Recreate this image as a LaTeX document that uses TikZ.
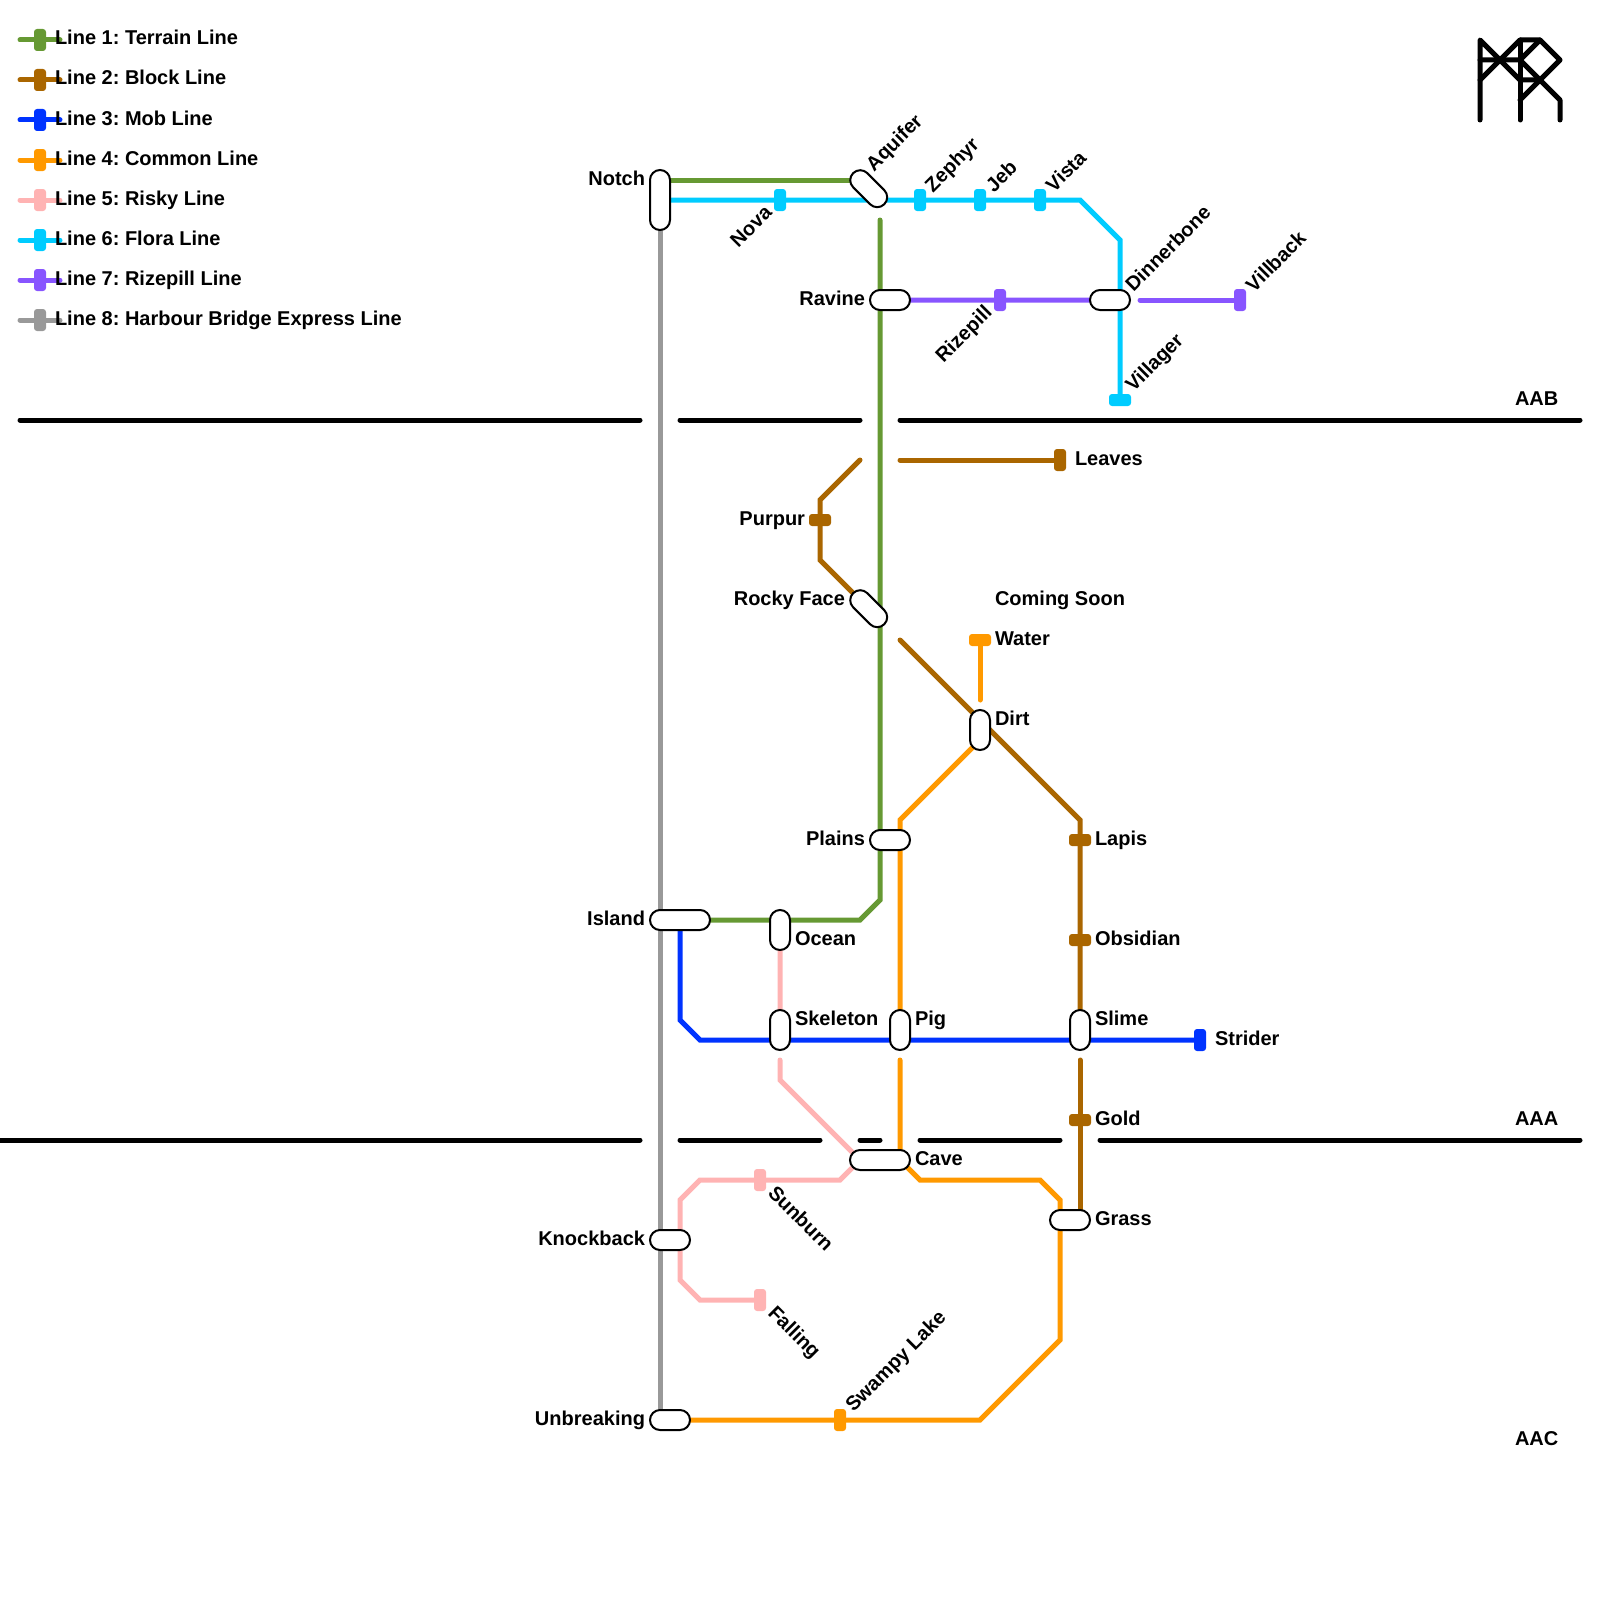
\documentclass[tikz,border=0pt]{standalone}
\usepackage{fontspec}
\setmainfont{Liberation Sans}
\usepackage{xcolor}
\usepackage{tikz}
\usetikzlibrary{shapes.misc, backgrounds}

\definecolor{terraincol}{HTML}{669933}
\definecolor{blockcol}{HTML}{AA6600}
\definecolor{mobcol}{HTML}{0033FF}
\definecolor{commoncol}{HTML}{FF9900}
\definecolor{riskycol}{HTML}{FFB3B3}
\definecolor{floracol}{HTML}{00CCFF}
\definecolor{rizecol}{HTML}{8855FF}
\definecolor{expresscol}{HTML}{999999}

\begin{document}
\frenchspacing
\begin{tikzpicture}[
  x=1pt, y=-1pt,
  stn/.style={rounded rectangle, draw, fill=white, line width=2pt, inner sep=0pt,
              outer sep=0pt, minimum height=20pt, minimum width=40pt},
  tickv/.style={rectangle, rounded corners=3pt, inner sep=0pt, outer sep=0pt,
                minimum width=12pt, minimum height=22pt},
  tickh/.style={tickv, rotate=90},
  lbl/.style={inner sep=0pt, outer sep=0pt, font=\bfseries\fontsize{20}{24}\selectfont},
  lblr/.style={lbl, anchor=base east},
  lbll/.style={lbl, anchor=base west},
  lblup/.style={lbll, rotate=45},
  lbldn/.style={lblr, rotate=45},
  lblfall/.style={lbll, rotate=-45},
  metro/.style={line width=5pt, line cap=round},
  terrainln/.style={metro, draw=terraincol},
  blockln/.style={metro, draw=blockcol},
  mobln/.style={metro, draw=mobcol},
  commonln/.style={metro, draw=commoncol},
  riskyln/.style={metro, draw=riskycol},
  floraln/.style={metro, draw=floracol},
  rizeln/.style={metro, draw=rizecol},
  expressln/.style={metro, draw=expresscol},
  divider/.style={line width=5pt, line cap=round, draw=black},
  logoln/.style={divider, line join=round}
]
  \useasboundingbox (0,0) rectangle (1600,1600);

  % legend
  \node[tickv, fill=terraincol] (key1) at (40,40) {};
  \node[tickv, fill=blockcol]   (key2) at (40,80) {};
  \node[tickv, fill=mobcol]     (key3) at (40,120) {};
  \node[tickv, fill=commoncol]  (key4) at (40,160) {};
  \node[tickv, fill=riskycol]   (key5) at (40,200) {};
  \node[tickv, fill=floracol]   (key6) at (40,240) {};
  \node[tickv, fill=rizecol]    (key7) at (40,280) {};
  \node[tickv, fill=expresscol] (key8) at (40,320) {};
  \node[lbll] (key1L) at (55,45)  {Line 1: Terrain Line};
  \node[lbll] (key2L) at (55,85)  {Line 2: Block Line};
  \node[lbll] (key3L) at (55,125) {Line 3: Mob Line};
  \node[lbll] (key4L) at (55,165) {Line 4: Common Line};
  \node[lbll] (key5L) at (55,205) {Line 5: Risky Line};
  \node[lbll] (key6L) at (55,245) {Line 6: Flora Line};
  \node[lbll] (key7L) at (55,285) {Line 7: Rizepill Line};
  \node[lbll] (key8L) at (55,325) {Line 8: Harbour Bridge Express Line};

  % interchanges
  \node[stn, minimum width=60pt, rotate=90] (notch) at (660,200) {};
  \node[stn, minimum width=44pt, rotate=-45] (aquifer) at (868.7,188.7) {};
  \node[stn] (ravine) at (890,300) {};
  \node[stn] (dinnerbone) at (1110,300) {};
  \node[stn, minimum width=44pt, rotate=-45] (rockyface) at (868.7,608.7) {};
  \node[stn, rotate=90] (dirt) at (980,730) {};
  \node[stn] (plains) at (890,840) {};
  \node[stn, minimum width=60pt] (island) at (680,920) {};
  \node[stn, rotate=90] (ocean) at (780,930) {};
  \node[stn, rotate=90] (skeleton) at (780,1030) {};
  \node[stn, rotate=90] (pig) at (900,1030) {};
  \node[stn, rotate=90] (slime) at (1080,1030) {};
  \node[stn, minimum width=60pt] (cave) at (880,1160) {};
  \node[stn] (grass) at (1070,1220) {};
  \node[stn] (knockback) at (670,1240) {};
  \node[stn] (unbreaking) at (670,1420) {};

  % plain stops
  \node[tickv, fill=floracol] (nova) at (780,200) {};
  \node[tickv, fill=floracol] (zephyr) at (920,200) {};
  \node[tickv, fill=floracol] (jeb) at (980,200) {};
  \node[tickv, fill=floracol] (vista) at (1040,200) {};
  \node[tickh, fill=floracol] (villager) at (1120,400) {};
  \node[tickv, fill=rizecol] (rizepill) at (1000,300) {};
  \node[tickv, fill=rizecol] (villback) at (1240,300) {};
  \node[tickv, fill=blockcol] (leaves) at (1060,460) {};
  \node[tickh, fill=blockcol] (purpur) at (820,520) {};
  \node[tickh, fill=blockcol] (lapis) at (1080,840) {};
  \node[tickh, fill=blockcol] (obsidian) at (1080,940) {};
  \node[tickh, fill=blockcol] (gold) at (1080,1120) {};
  \node[tickh, fill=commoncol] (water) at (980,640) {};
  \node[tickv, fill=commoncol] (swampy) at (840,1420) {};
  \node[tickv, fill=mobcol] (strider) at (1200,1040) {};
  \node[tickv, fill=riskycol] (sunburn) at (760,1180) {};
  \node[tickv, fill=riskycol] (falling) at (760,1300) {};

  % free ends of the lines
  \coordinate (notchTop) at (660,180);
  \coordinate (terrainA) at (880,220);
  \coordinate (blockA) at (860,460);
  \coordinate (blockB) at (900,460);
  \coordinate (blockC) at (900,640);
  \coordinate (blockD) at (1080,1060);
  \coordinate (commonA) at (980,700);
  \coordinate (commonB) at (980,740);
  \coordinate (commonC) at (900,1060);
  \coordinate (commonD) at (900,1160);
  \coordinate (mobA) at (680,930);
  \coordinate (riskyA) at (780,1060);
  \coordinate (riskyB) at (860,1160);
  \coordinate (rizeA) at (1140,300);

  % station names
  \node[lblr] (notchL) at (645,185) {Notch};
  \node[lblr] (ravineL) at (865,305) {Ravine};
  \node[lblr] (purpurL) at (805,525) {Purpur};
  \node[lblr] (rockyfaceL) at (845,605) {Rocky Face};
  \node[lblr] (plainsL) at (865,845) {Plains};
  \node[lblr] (islandL) at (645,925) {Island};
  \node[lblr] (knockbackL) at (645,1245) {Knockback};
  \node[lblr] (unbreakingL) at (645,1425) {Unbreaking};
  \node[lbll] (leavesL) at (1075,465) {Leaves};
  \node[lbll] (soonL) at (995,605) {Coming Soon};
  \node[lbll] (waterL) at (995,645) {Water};
  \node[lbll] (dirtL) at (995,725) {Dirt};
  \node[lbll] (lapisL) at (1095,845) {Lapis};
  \node[lbll] (obsidianL) at (1095,945) {Obsidian};
  \node[lbll] (oceanL) at (795,945) {Ocean};
  \node[lbll] (skeletonL) at (795,1025) {Skeleton};
  \node[lbll] (pigL) at (915,1025) {Pig};
  \node[lbll] (slimeL) at (1095,1025) {Slime};
  \node[lbll] (striderL) at (1215,1045) {Strider};
  \node[lbll] (goldL) at (1095,1125) {Gold};
  \node[lbll] (caveL) at (915,1165) {Cave};
  \node[lbll] (grassL) at (1095,1225) {Grass};
  \node[lbll] (aabL) at (1515,405) {AAB};
  \node[lbll] (aaaL) at (1515,1125) {AAA};
  \node[lbll] (aacL) at (1515,1445) {AAC};
  \node[lblup] (aquiferL) at (874,172) {Aquifer};
  \node[lblup] (zephyrL) at (933,193) {Zephyr};
  \node[lblup] (jebL) at (994,193) {Jeb};
  \node[lblup] (vistaL) at (1054,193) {Vista};
  \node[lblup] (dinnerboneL) at (1133.5,292.5) {Dinnerbone};
  \node[lblup] (villbackL) at (1254,293) {Villback};
  \node[lblup] (villagerL) at (1133.5,392.5) {Villager};
  \node[lblup] (swampyL) at (853.5,1412.5) {Swampy Lake};
  \node[lbldn] (novaL) at (773,214) {Nova};
  \node[lbldn] (rizepillL) at (993,314) {Rizepill};
  \node[lblfall] (sunburnL) at (767,1194) {Sunburn};
  \node[lblfall] (fallingL) at (767,1314) {Falling};

  \begin{scope}[on background layer]
    % zones
    \draw[divider] (20,420) -- (640,420);
    \draw[divider] (680,420) -- (860,420);
    \draw[divider] (900,420) -- (1580,420);
    \draw[divider] (0,1140) -- (640,1140);
    \draw[divider] (680,1140) -- (820,1140);
    \draw[divider] (860,1140) -- (880,1140);
    \draw[divider] (920,1140) -- (1060,1140);
    \draw[divider] (1100,1140) -- (1580,1140);

    % legend strokes
    \draw[terrainln] ([xshift=-20pt]key1.center) -- ([xshift=20pt]key1.center);
    \draw[blockln] ([xshift=-20pt]key2.center) -- ([xshift=20pt]key2.center);
    \draw[mobln] ([xshift=-20pt]key3.center) -- ([xshift=20pt]key3.center);
    \draw[commonln] ([xshift=-20pt]key4.center) -- ([xshift=20pt]key4.center);
    \draw[riskyln] ([xshift=-20pt]key5.center) -- ([xshift=20pt]key5.center);
    \draw[floraln] ([xshift=-20pt]key6.center) -- ([xshift=20pt]key6.center);
    \draw[rizeln] ([xshift=-20pt]key7.center) -- ([xshift=20pt]key7.center);
    \draw[expressln] ([xshift=-20pt]key8.center) -- ([xshift=20pt]key8.center);

    % lines
    \draw[expressln] (notch) -- (notch |- unbreaking);
    \draw[terrainln] (notchTop) -- (notchTop -| aquifer);
    \draw[terrainln] (terrainA) -- (880,900) -- (860,920) -- (island);
    \draw[blockln] (blockA) -- (820,500) -- (purpur) -- (820,560) -- (rockyface);
    \draw[blockln] (blockB) -- (leaves);
    \draw[blockln] (blockC) -- (1080,820) -- (lapis) -- (obsidian) -- (slime);
    \draw[blockln] (blockD) -- (gold) -- (gold |- grass);
    \draw[mobln] (mobA) -- (680,1020) -- (700,1040) -- (strider);
    \draw[commonln] (water) -- (commonA);
    \draw[commonln] (commonB) -- (900,820) -- (pig);
    \draw[commonln] (commonC) -- (commonD) -- (920,1180) -- (1040,1180) -- (1060,1200)
      -- (1060,1340) -- (980,1420) -- (swampy) -- (unbreaking);
    \draw[riskyln] (ocean) -- (skeleton);
    \draw[riskyln] (riskyA) -- (780,1080) -- (riskyB) -- (840,1180) -- (sunburn) -- (700,1180)
      -- (680,1200) -- (680,1280) -- (700,1300) -- (falling);
    \draw[floraln] (notch) -- (nova) -- (zephyr) -- (jeb) -- (vista) -- (1080,200)
      -- (1120,240) -- (villager);
    \draw[rizeln] (ravine) -- (rizepill) -- (dinnerbone);
    \draw[rizeln] (rizeA) -- (villback);
  \end{scope}

  % logo
  \draw[logoln] (1480,120) -- (1480,40) -- (1520,80) -- (1540,80);
  \draw[logoln] (1480,80) -- (1520,40) -- (1540,40) -- (1560,60) -- (1520,100);
  \draw[logoln] (1520,120) -- (1520,40);
  \draw[logoln] (1480,60) -- (1520,60) -- (1560,100) -- (1560,120);
  \draw[logoln] (1540,40) -- (1520,60);
\end{tikzpicture}
\end{document}
